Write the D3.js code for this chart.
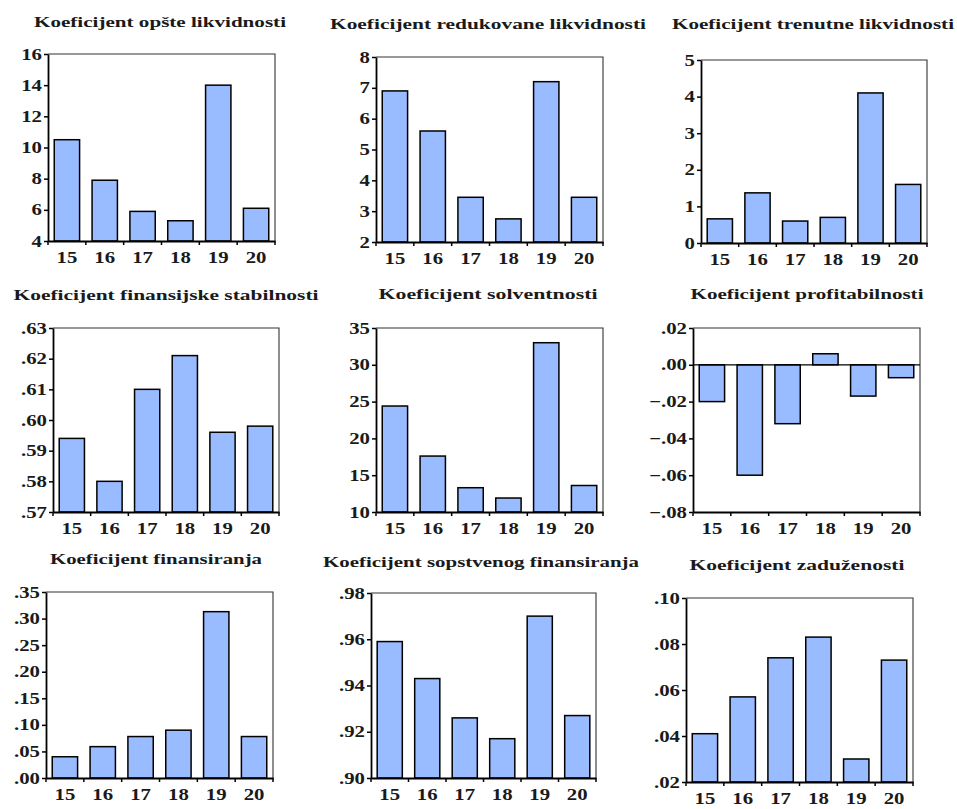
<!DOCTYPE html>
<html>
<head>
<meta charset="utf-8">
<script src="https://cdn.jsdelivr.net/npm/d3@7"></script>
<style>
  body { margin: 0; background: #fff; }
  svg text { font-family: "Liberation Serif", "Times New Roman", serif; font-weight: bold; fill: #1a1a1a; }
</style>
</head>
<body>
<div id="chart"></div>
<script>
// categories (years)
const years = ["15", "16", "17", "18", "19", "20"];

// series values, one per panel
const opsteLikvidnosti = [10.5, 7.9, 5.9, 5.3, 14.0, 6.1];
const redukovaneLikvidnosti = [6.9, 5.6, 3.45, 2.75, 7.2, 3.45];
const trenutneLikvidnosti = [0.66, 1.37, 0.6, 0.7, 4.1, 1.6];
const finansijskeStabilnosti = [0.594, 0.58, 0.61, 0.621, 0.596, 0.598];
const solventnosti = [24.4, 17.6, 13.3, 11.9, 33.0, 13.6];
const profitabilnosti = [-0.020, -0.060, -0.032, 0.006, -0.017, -0.007];
const finansiranja = [0.04, 0.059, 0.078, 0.09, 0.313, 0.078];
const sopstvenogFinansiranja = [0.959, 0.943, 0.926, 0.917, 0.970, 0.927];
const zaduzenosti = [0.041, 0.057, 0.074, 0.083, 0.030, 0.073];

const titles = [
  "Koeficijent opšte likvidnosti",
  "Koeficijent redukovane likvidnosti",
  "Koeficijent trenutne likvidnosti",
  "Koeficijent finansijske stabilnosti",
  "Koeficijent solventnosti",
  "Koeficijent profitabilnosti",
  "Koeficijent finansiranja",
  "Koeficijent sopstvenog finansiranja",
  "Koeficijent zaduženosti"
];

// y tick values per panel (first and last give the domain)
const yTicks = [
  [4, 6, 8, 10, 12, 14, 16],
  [2, 3, 4, 5, 6, 7, 8],
  [0, 1, 2, 3, 4, 5],
  [0.57, 0.58, 0.59, 0.60, 0.61, 0.62, 0.63],
  [10, 15, 20, 25, 30, 35],
  [-0.08, -0.06, -0.04, -0.02, 0.00, 0.02],
  [0, 0.05, 0.10, 0.15, 0.20, 0.25, 0.30, 0.35],
  [0.90, 0.92, 0.94, 0.96, 0.98],
  [0.02, 0.04, 0.06, 0.08, 0.10]
];

const series = [opsteLikvidnosti, redukovaneLikvidnosti, trenutneLikvidnosti,
  finansijskeStabilnosti, solventnosti, profitabilnosti,
  finansiranja, sopstvenogFinansiranja, zaduzenosti];

// frame of each plot and title placement (layout only)
const frames = [
  { l: 48, r: 275, t: 54, b: 241, tx: 160, ty: 24, tw: 252 },
  { l: 376, r: 603, t: 57, b: 242, tx: 488, ty: 26, tw: 316 },
  { l: 701, r: 927, t: 60, b: 243, tx: 813, ty: 26, tw: 282 },
  { l: 53, r: 279, t: 328, b: 512, tx: 166, ty: 297, tw: 305 },
  { l: 376, r: 603, t: 328, b: 512, tx: 488, ty: 296, tw: 219 },
  { l: 693, r: 920, t: 328, b: 512, tx: 807, ty: 296, tw: 233 },
  { l: 46, r: 273, t: 592, b: 778, tx: 156, ty: 561, tw: 212 },
  { l: 371, r: 596, t: 593, b: 778, tx: 481, ty: 564, tw: 316 },
  { l: 686, r: 913, t: 598, b: 782, tx: 797, ty: 567, tw: 215 }
];

const width = 957;
const height = 809;
const barColor = "#99bbff";
const stretch = 1.3; // the reference text is wide

function fmt(ticks) {
  const integers = ticks.every((v) => Number.isInteger(v));
  return function (v) {
    if (integers) return String(v);
    return d3.format(".2f")(v).replace("0.", ".");
  };
}

const svg = d3
  .select("#chart")
  .append("svg")
  .attr("width", width)
  .attr("height", height);

frames.forEach(function (f, i) {
  const values = series[i];
  const ticks = yTicks[i];
  const g = svg.append("g");

  const x = d3
    .scaleBand()
    .domain(years)
    .range([f.l, f.r])
    .paddingInner(0.33)
    .paddingOuter(0.165);

  const y = d3
    .scaleLinear()
    .domain([ticks[0], ticks[ticks.length - 1]])
    .range([f.b, f.t]);

  // title
  g.append("text")
    .attr("x", f.tx)
    .attr("y", f.ty)
    .attr("text-anchor", "middle")
    .attr("dominant-baseline", "middle")
    .attr("font-size", 15)
    .attr("textLength", f.tw)
    .attr("lengthAdjust", "spacingAndGlyphs")
    .text(titles[i]);

  // frame top and right
  g.append("path")
    .attr("d", `M${f.l},${f.t}H${f.r}V${f.b}`)
    .attr("fill", "none")
    .attr("stroke", "#333")
    .attr("stroke-width", 1.1);

  // bars
  const base = y.domain()[0] < 0 && y.domain()[1] > 0 ? 0 : y.domain()[0];
  g.selectAll("rect.bar")
    .data(values)
    .enter()
    .append("rect")
    .attr("class", "bar")
    .attr("x", (d, j) => x(years[j]))
    .attr("width", x.bandwidth())
    .attr("y", (d) => Math.min(y(d), y(base)))
    .attr("height", (d) => Math.abs(y(d) - y(base)))
    .attr("fill", barColor)
    .attr("stroke", "#000")
    .attr("stroke-width", 1.5);

  // zero line for panels crossing zero
  if (base === 0 && y.domain()[0] < 0) {
    g.append("line")
      .attr("x1", f.l)
      .attr("x2", f.r)
      .attr("y1", y(0))
      .attr("y2", y(0))
      .attr("stroke", "#000")
      .attr("stroke-width", 1.2);
  }

  // y axis
  const yAxis = g
    .append("g")
    .attr("transform", `translate(${f.l},0)`)
    .call(
      d3.axisLeft(y).tickValues(ticks).tickFormat(fmt(ticks)).tickSize(4).tickSizeOuter(0)
    );
  yAxis.select(".domain").attr("stroke", "#000").attr("stroke-width", 1.8);
  yAxis.selectAll(".tick line").attr("stroke", "#000").attr("stroke-width", 1.5);
  yAxis
    .selectAll(".tick text")
    .attr("x", null)
    .attr("transform", `translate(-6,0) scale(${stretch},1)`)
    .attr("font-size", 16)
    .attr("font-family", null);

  // x axis labels at band centres
  const xAxis = g
    .append("g")
    .attr("transform", `translate(0,${f.b})`)
    .call(d3.axisBottom(x).tickSize(0).tickPadding(11).tickSizeOuter(0));
  xAxis.select(".domain").attr("stroke", "#000").attr("stroke-width", 1.8);
  xAxis
    .selectAll(".tick text")
    .attr("transform", `scale(${stretch},1)`)
    .attr("font-size", 16)
    .attr("font-family", null);

  // x tick marks on band boundaries
  const step = x.step();
  const edges = years.map((d) => x(d) - (step - x.bandwidth()) / 2);
  edges.push(f.r);
  g.selectAll("line.xtick")
    .data(edges)
    .enter()
    .append("line")
    .attr("class", "xtick")
    .attr("x1", (d) => d)
    .attr("x2", (d) => d)
    .attr("y1", f.b)
    .attr("y2", f.b + 4)
    .attr("stroke", "#000")
    .attr("stroke-width", 1.5);
});
</script>
</body>
</html>
